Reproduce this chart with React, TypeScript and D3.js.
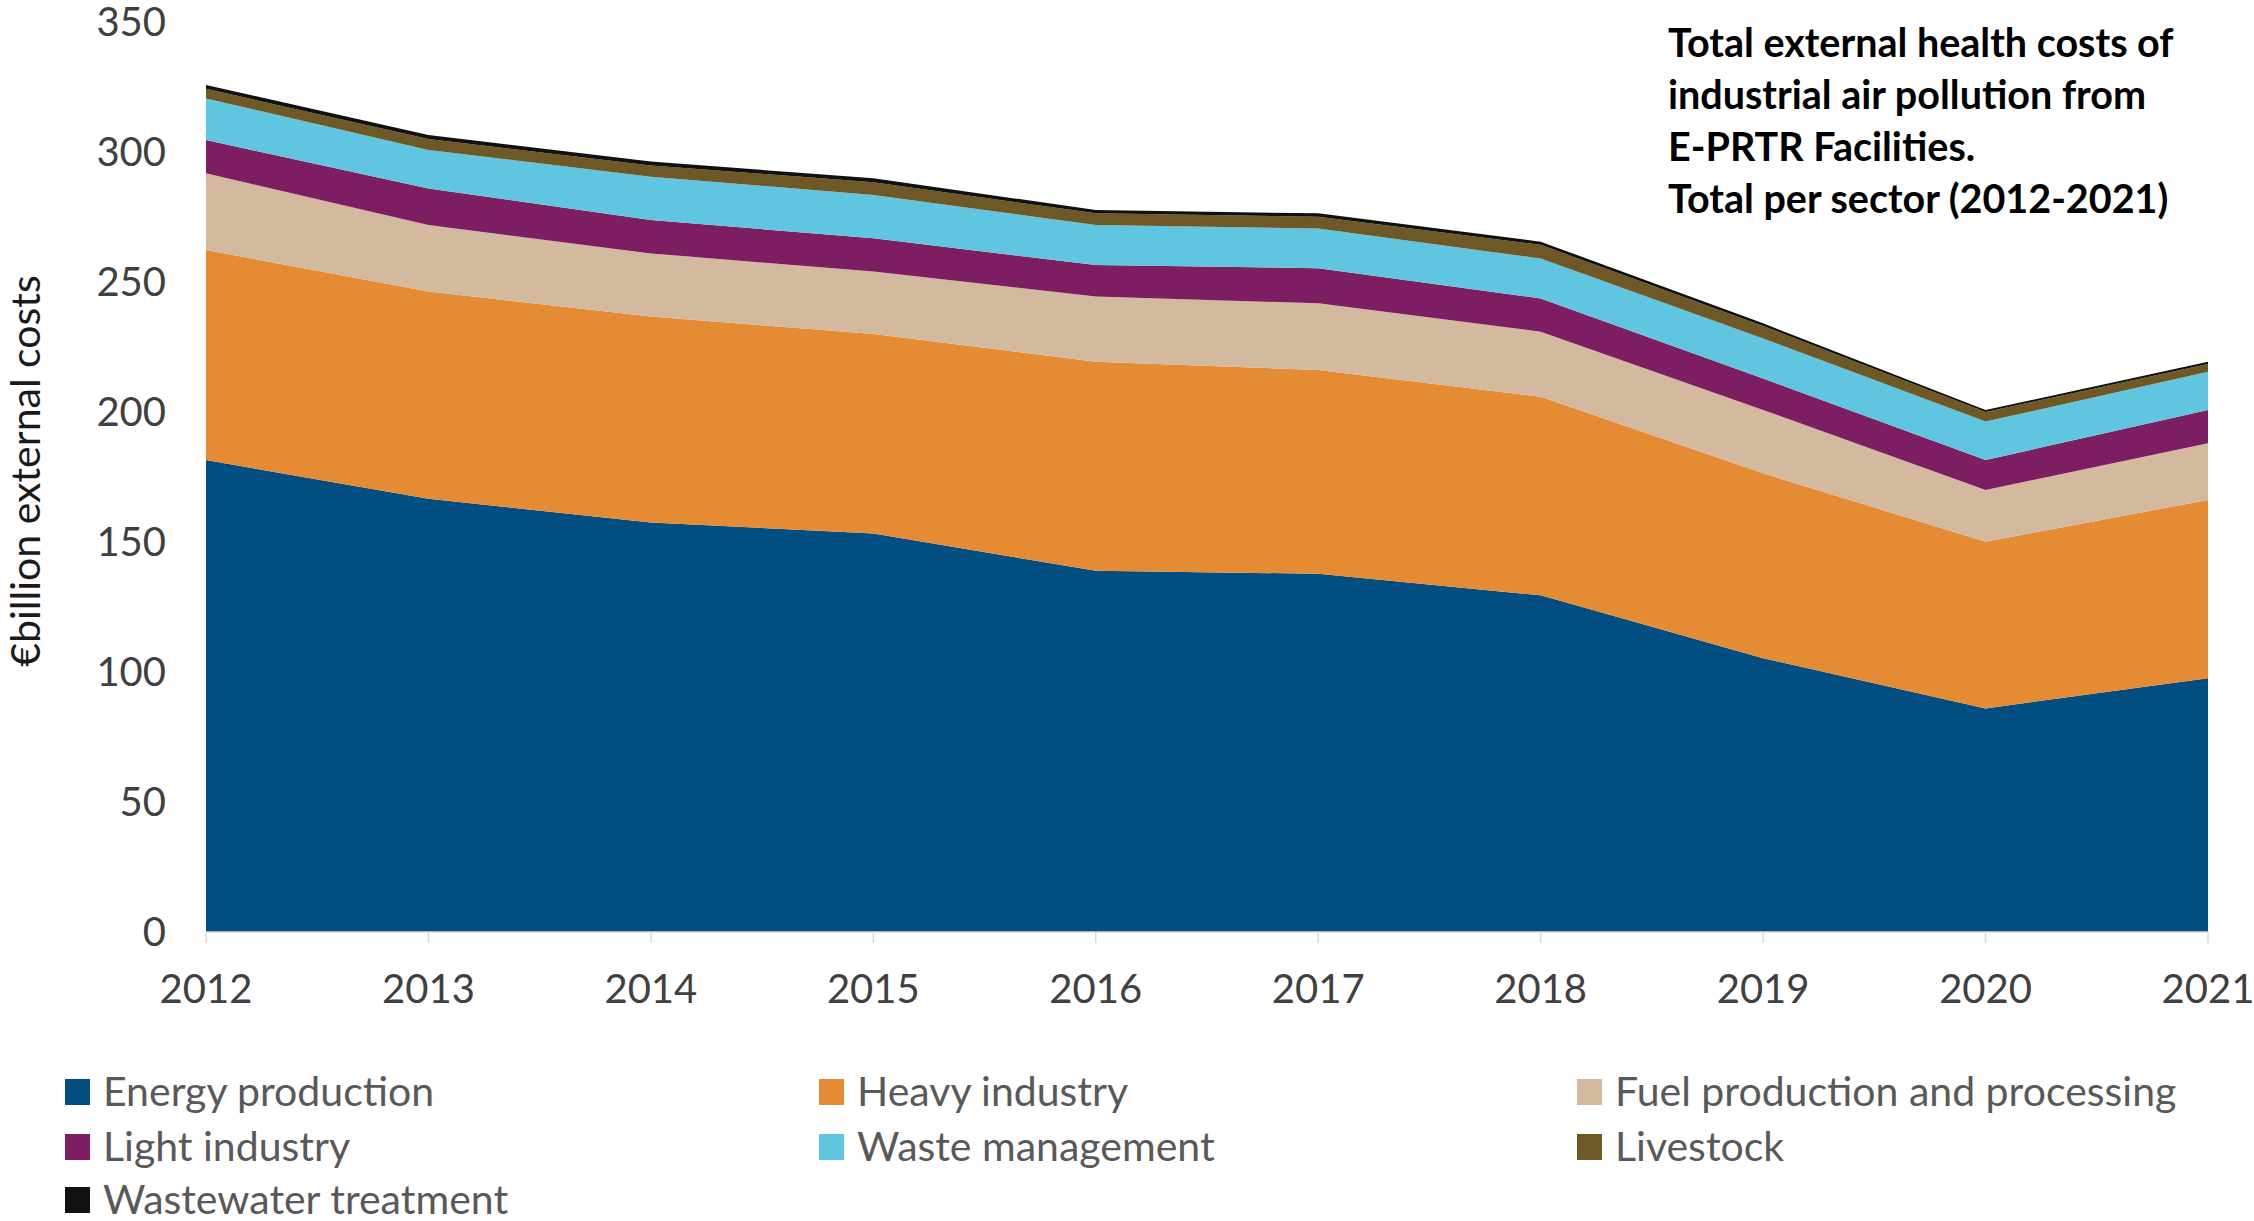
import React from "react";
import * as d3 from "d3";

const years = [2012, 2013, 2014, 2015, 2016, 2017, 2018, 2019, 2020, 2021];
const energyProduction = [181.5, 166.6, 157.5, 153.3, 138.9, 137.8, 129.5, 105.3, 86.0, 97.6];
const heavyIndustry = [80.8, 79.7, 79.2, 76.7, 80.4, 78.4, 76.4, 71.1, 64.1, 68.6];
const fuelProduction = [29.5, 25.6, 24.3, 24.0, 25.1, 25.6, 25.0, 24.4, 19.9, 21.8];
const lightIndustry = [12.8, 14.1, 12.8, 12.8, 12.1, 13.5, 12.8, 12.1, 11.5, 12.8];
const wasteManagement = [16.0, 14.8, 16.7, 16.7, 15.4, 15.3, 15.3, 15.4, 14.8, 14.7];
const livestock = [3.7, 4.2, 4.3, 4.9, 4.5, 4.5, 5.3, 4.8, 3.7, 3.0];
const wastewaterTreatment = [1.5, 1.5, 1.5, 1.5, 1.3, 1.3, 1.2, 1.0, 0.8, 0.8];

const seriesNames = [
  "Energy production",
  "Heavy industry",
  "Fuel production and processing",
  "Light industry",
  "Waste management",
  "Livestock",
  "Wastewater treatment",
];
const seriesValues = [
  energyProduction,
  heavyIndustry,
  fuelProduction,
  lightIndustry,
  wasteManagement,
  livestock,
  wastewaterTreatment,
];
const seriesColors = ["#034e81", "#e48b33", "#d3b99d", "#7d1e62", "#60c5df", "#6d5826", "#111111"];
const yTicks = [0, 50, 100, 150, 200, 250, 300, 350];
const titleLines = [
  "Total external health costs of",
  "industrial air pollution from",
  "E-PRTR Facilities.",
  "Total per sector (2012-2021)",
];
const yAxisLabel = "€billion external costs";

const legendOrder = [0, 1, 2, 3, 4, 5, 6];

export default function App() {
  const W = 2254;
  const H = 1221;
  const x = d3.scaleLinear().domain([2012, 2021]).range([206, 2208]);
  const y = d3.scaleLinear().domain([0, 350]).range([932, 22]);

  const table = years.map((yr, i) => {
    const row: any = { year: yr };
    seriesNames.forEach((n, k) => (row[n] = seriesValues[k][i]));
    return row;
  });
  const stacked = d3.stack<any>().keys(seriesNames)(table);
  const area = d3
    .area<any>()
    .x((d) => x(d.data.year))
    .y0((d) => y(d[0]))
    .y1((d) => y(d[1]));

  const font = "Lato, 'Open Sans', sans-serif";
  const legendCols = [65, 819, 1577];
  const legendRows = [1092, 1147, 1200];

  return (
    <div style={{ position: "absolute", left: 0, top: 0 }}>
      <svg width={W} height={H} style={{ display: "block", background: "#fff" }}>
        {stacked.map((s, k) => (
          <path key={k} d={area(s) || ""} fill={seriesColors[k]} />
        ))}
        <line x1={x(2012)} x2={x(2021)} y1={y(0)} y2={y(0)} stroke="#d9d9d9" strokeWidth={1.5} />
        {years.map((yr) => (
          <g key={yr}>
            <line x1={x(yr)} x2={x(yr)} y1={y(0)} y2={y(0) + 11} stroke="#d9d9d9" strokeWidth={1.5} />
            <text x={x(yr)} y={1003} textAnchor="middle" fontFamily={font} fontSize={40} fill="#404040">
              {yr}
            </text>
          </g>
        ))}
        {yTicks.map((t) => (
          <text key={t} x={166} y={y(t) + 14} textAnchor="end" fontFamily={font} fontSize={40} fill="#404040">
            {t}
          </text>
        ))}
        <text
          transform={`translate(40, 471) rotate(-90)`}
          textAnchor="middle"
          fontFamily={font}
          fontSize={41}
          fill="#1a1a1a"
        >
          {yAxisLabel}
        </text>
        {titleLines.map((l, i) => (
          <text key={i} x={1668} y={57 + i * 52} fontFamily={font} fontWeight="bold" fontSize={39.5} fill="#000">
            {l}
          </text>
        ))}
        {legendOrder.map((k, i) => {
          const cx = legendCols[i % 3];
          const cy = legendRows[Math.floor(i / 3)];
          return (
            <g key={k}>
              <rect x={cx} y={cy - 13} width={25} height={26} fill={seriesColors[k]} />
              <text x={cx + 38} y={cy + 14} fontFamily={font} fontSize={41} fill="#595959">
                {seriesNames[k]}
              </text>
            </g>
          );
        })}
      </svg>
    </div>
  );
}
